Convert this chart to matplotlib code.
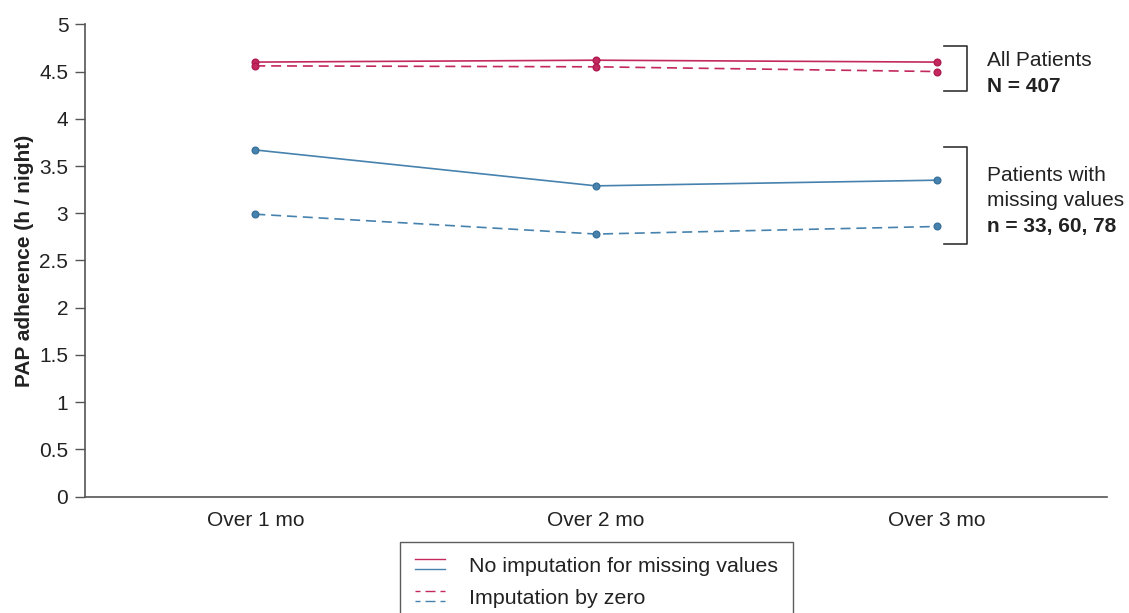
import matplotlib
matplotlib.use("Agg")
import matplotlib.pyplot as plt
from matplotlib.lines import Line2D
from matplotlib.legend_handler import HandlerBase

plt.rcParams['font.family'] = ['Liberation Sans', 'DejaVu Sans']

periods = ["Over 1 mo", "Over 2 mo", "Over 3 mo"]
all_no_imput = [4.60, 4.62, 4.60]
all_imput_zero = [4.56, 4.55, 4.50]
missing_no_imput = [3.67, 3.29, 3.35]
missing_imput_zero = [2.99, 2.78, 2.86]
y_ticks = [0, 0.5, 1, 1.5, 2, 2.5, 3, 3.5, 4, 4.5, 5]
y_tick_labels = ["0", "0.5", "1", "1.5", "2", "2.5", "3", "3.5", "4", "4.5", "5"]

RED = "#c3285e"
BLUE = "#4682ad"
TXT = "#222222"
AX = "#555555"
FS = 15

fig = plt.figure(figsize=(11.29, 6.13), dpi=100)
ax = fig.add_axes([85/1129, 1-496.7/613, 1022/1129, 472.4/613])

x = list(range(len(periods)))
dash = (0, (6, 3.5))
ax.plot(x, all_no_imput, color=RED, lw=1.2, marker='o', ms=4.8, mfc=RED, mec="#b01c50")
ax.plot(x, all_imput_zero, color=RED, lw=1.2, ls=dash, marker='o', ms=4.8, mfc=RED, mec="#b01c50")
ax.plot(x, missing_no_imput, color=BLUE, lw=1.2, marker='o', ms=4.8, mfc=BLUE, mec="#3a729c")
ax.plot(x, missing_imput_zero, color=BLUE, lw=1.2, ls=dash, marker='o', ms=4.8, mfc=BLUE, mec="#3a729c")

ax.set_xlim(-0.5, 2.5)
ax.set_ylim(0, 5)
ax.set_xticks(x)
ax.set_xticklabels(periods, fontsize=FS, color=TXT)
ax.set_yticks(y_ticks)
ax.set_yticklabels(y_tick_labels, fontsize=FS, color=TXT)
ax.tick_params(axis='x', length=0, pad=10)
ax.tick_params(axis='y', length=7, width=1, color=AX, pad=5)
for s in ['top', 'right']:
    ax.spines[s].set_visible(False)
for s in ['left', 'bottom']:
    ax.spines[s].set_color(AX)
    ax.spines[s].set_linewidth(1.2)

ax.set_ylabel("PAP adherence (h / night)", fontsize=FS, fontweight='bold', color=TXT)
ax.yaxis.set_label_coords(-0.050, 0.5)

# brackets (data coords)
def px2x(p):
    return (p - 255) / 341.0

def py2y(p):
    return (496.7 - p) / 94.48

def bracket(top, bot):
    xl, xr = px2x(944), px2x(967)
    ax.plot([xl, xr, xr, xl], [py2y(top), py2y(top), py2y(bot), py2y(bot)],
            color="#333333", lw=1.2, clip_on=False, solid_joinstyle='round')

bracket(45.7, 91)
bracket(147.3, 244)

tx = px2x(987)
kw = dict(fontsize=FS, color=TXT, va='center', ha='left', clip_on=False)
ax.text(tx, py2y(61), "All Patients", **kw)
ax.text(tx, py2y(87), "N = 407", fontweight='bold', **kw)
ax.text(tx, py2y(176), "Patients with", **kw)
ax.text(tx, py2y(201), "missing values", **kw)
ax.text(tx, py2y(227), "n = 33, 60, 78", fontweight='bold', **kw)


class HandlerPair(HandlerBase):
    def __init__(self, ls):
        super().__init__()
        self.ls = ls

    def create_artists(self, legend, orig_handle, xdescent, ydescent, width, height, fontsize, trans):
        arts = []
        for i, c in enumerate([RED, BLUE]):
            yy = height * 0.5 + 3.6 - 7.2 * i - ydescent
            ln = Line2D([-xdescent, -xdescent + width], [yy, yy], color=c, lw=1.0,
                        ls=self.ls, transform=trans)
            arts.append(ln)
        return arts


h1 = Line2D([], [])
h2 = Line2D([], [])
leg = fig.legend([h1, h2], ["No imputation for missing values", "Imputation by zero"],
                 handler_map={h1: HandlerPair('-'), h2: HandlerPair((3.6, (7.2, 3.6)))},
                 loc='upper center', bbox_to_anchor=(596.5/1129, 1-542/613),
                 fontsize=15.4, frameon=True, fancybox=False, handlelength=1.4,
                 handletextpad=1.15, borderpad=0.7, labelspacing=0.6, borderaxespad=0)
leg.get_frame().set_edgecolor("#333333")
leg.get_frame().set_linewidth(1.0)
for t in leg.get_texts():
    t.set_color(TXT)

fig.savefig("out.png", dpi=100)
